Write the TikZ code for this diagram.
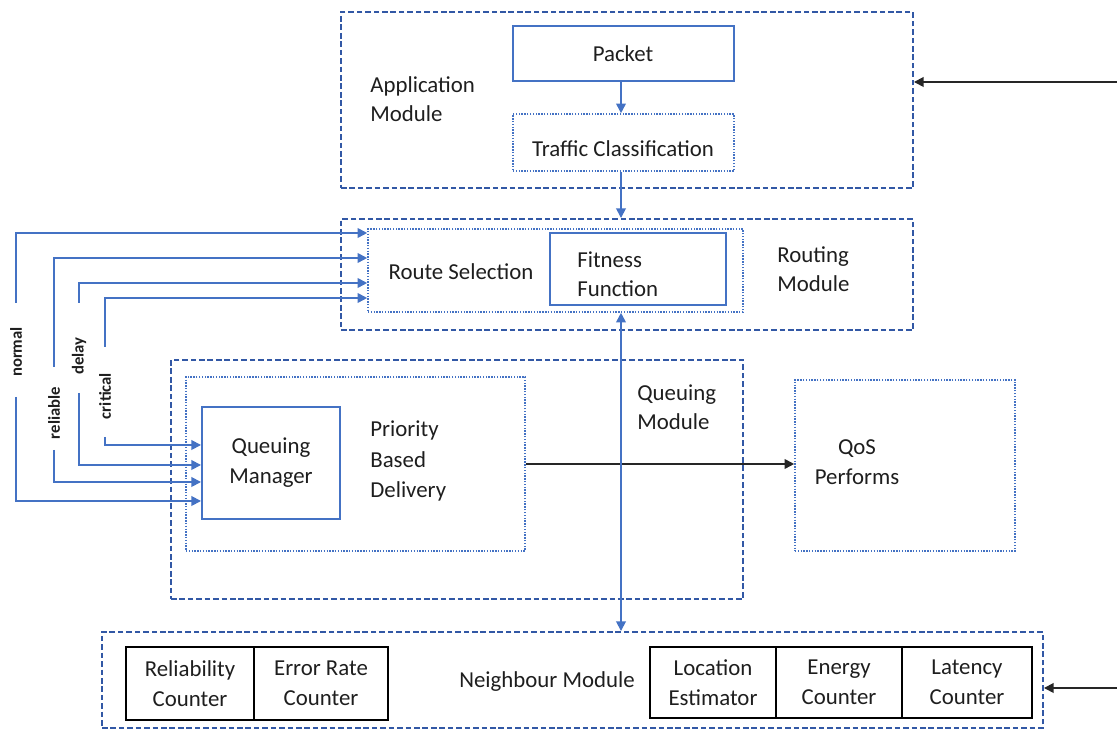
\documentclass[tikz,border=0pt]{standalone}
\usepackage{fontspec}
\setmainfont{Carlito}
\usetikzlibrary{fit,arrows.meta,positioning}

\definecolor{lblue}{RGB}{68,114,196}
\definecolor{dblue}{RGB}{50,88,165}
\definecolor{txt}{RGB}{30,30,30}

\tikzset{
	modbox/.style={draw=dblue, dash pattern=on 3.2pt off 1.6pt, line width=1.1pt, inner sep=0pt},
	subbox/.style={draw=lblue, dash pattern=on 0.8pt off 0.8pt, line width=0.9pt, inner sep=0pt},
	blubox/.style={draw=lblue, line width=1.1pt, inner sep=0pt},
	cntbox/.style={draw=black, line width=1pt, inner sep=0pt},
	lbl/.style={text=txt, font=\fontsize{13}{16.5}\selectfont, align=left, inner sep=0pt},
	clbl/.style={lbl, align=center, font=\fontsize{13}{17}\selectfont},
	vlbl/.style={text=txt, font=\fontsize{9.5}{11}\selectfont\bfseries, rotate=90, inner sep=0pt},
	bluearr/.style={draw=lblue, line width=1pt, -{Triangle[length=5.5pt,width=5.5pt]}},
	blackarr/.style={draw=black!85, line width=1pt, -{Triangle[length=5.5pt,width=5.5pt]}}
}

\begin{document}
\begin{tikzpicture}[x=0.02cm, y=-0.02cm]
			%%%%% START %%%%%
			\useasboundingbox (0,0) rectangle (1117,732);
			
			% application module
			\node[modbox, fit={(341,12) (913,188)}] (app) {};
			\node[blubox, fit={(513,26) (734,81)}] (pkt) {};
			\node[subbox, fit={(513,114) (734,171)}] (trf) {};
			\node[clbl] (pktlbl) at (623,54) {Packet};
			\node[clbl] (trflbl) at (623,149) {Traffic Classification};
			\node[lbl, anchor=west] (applbl) at (370,99) {Application\\Module};
			\draw[bluearr] (pkt.south -| 621,0) -- (trf.north -| 621,0);
			
			% routing module
			\node[modbox, fit={(341,219) (913,330)}] (rout) {};
			\node[subbox, fit={(368,229) (743,312)}] (rsel) {};
			\node[blubox, fit={(550,233) (726,305)}] (fit) {};
			\node[lbl, anchor=west] (fitlbl) at (577,274) {Fitness\\Function};
			\node[lbl] (rsellbl) at (461,272) {Route Selection};
			\node[lbl, anchor=west] (routlbl) at (777,269) {Routing\\Module};
			\draw[bluearr] (trf.south -| 621,0) -- (rout.north -| 621,0);
			
			% queuing module
			\node[modbox, fit={(171,360) (743,599)}] (que) {};
			\node[subbox, fit={(186,377) (525,551)}] (pbd) {};
			\node[blubox, fit={(202,407) (340,519)}] (qm) {};
			\node[clbl] (qmlbl) at (qm.center) {Queuing\\Manager};
			\node[lbl, anchor=west, font=\fontsize{13}{17.5}\selectfont] (pbdlbl) at (370,461) {Priority\\Based\\Delivery};
			\node[lbl, anchor=west] (quelbl) at (637,407) {Queuing\\Module};
			
			% qos
			\node[subbox, fit={(795,380) (1015,551)}] (qos) {};
			\node[clbl] (qoslbl) at (857,462) {QoS\\Performs};
			\draw[blackarr] (pbd.east) -- (qos.west |- pbd.east);
			
			% neighbour module
			\node[modbox, fit={(102,632) (1043,728)}] (nbr) {};
			\node[cntbox, fit={(126,647) (254,720)}] (rel) {};
			\node[cntbox, fit={(254,647) (388,720)}] (err) {};
			\node[cntbox, fit={(650,647) (776,718)}] (loc) {};
			\node[cntbox, fit={(776,647) (902,718)}] (eng) {};
			\node[cntbox, fit={(902,647) (1032,718)}] (lat) {};
			\node[clbl] (rellbl) at (rel.center) {Reliability\\Counter};
			\node[clbl] (errlbl) at (err.center) {Error Rate\\Counter};
			\node[clbl] (loclbl) at (loc.center) {Location\\Estimator};
			\node[clbl] (englbl) at (eng.center) {Energy\\Counter};
			\node[clbl] (latlbl) at (lat.center) {Latency\\Counter};
			\node[lbl] (nbrlbl) at (547,682) {Neighbour Module};
			\draw[bluearr, {Triangle[length=5.5pt,width=5.5pt]}-{Triangle[length=5.5pt,width=5.5pt]}] (rsel.south -| 621,0) -- (nbr.north -| 621,0);
			
			% feedback inputs
			\coordinate (appin) at (1117,82);
			\coordinate (nbrin) at (1117,688);
			\draw[blackarr] (appin) -- (app.east |- appin);
			\draw[blackarr] (nbrin) -- (nbr.east |- nbrin);
			
			% traffic classes
			\node[vlbl] (nrm) at (16,352) {normal};
			\node[vlbl] (rlb) at (54,413) {reliable};
			\node[vlbl] (dly) at (79,356) {delay};
			\node[vlbl] (crt) at (105,396) {critical};
			
			\draw[bluearr] (16,303) -- (16,233) -- (rsel.west |- 0,233);
			\draw[bluearr] (54,367) -- (54,258) -- (rsel.west |- 0,258);
			\draw[bluearr] (79,303) -- (79,283) -- (rsel.west |- 0,283);
			\draw[bluearr] (105,347) -- (105,298) -- (rsel.west |- 0,298);
			
			\draw[bluearr] (16,397) -- (16,501) -- (qm.west |- 0,501);
			\draw[bluearr] (54,450) -- (54,482) -- (qm.west |- 0,482);
			\draw[bluearr] (79,393) -- (79,465) -- (qm.west |- 0,465);
			\draw[bluearr] (105,437) -- (105,445) -- (qm.west |- 0,445);
			
			%%%%% END %%%%%
		\end{tikzpicture}
\end{document}
